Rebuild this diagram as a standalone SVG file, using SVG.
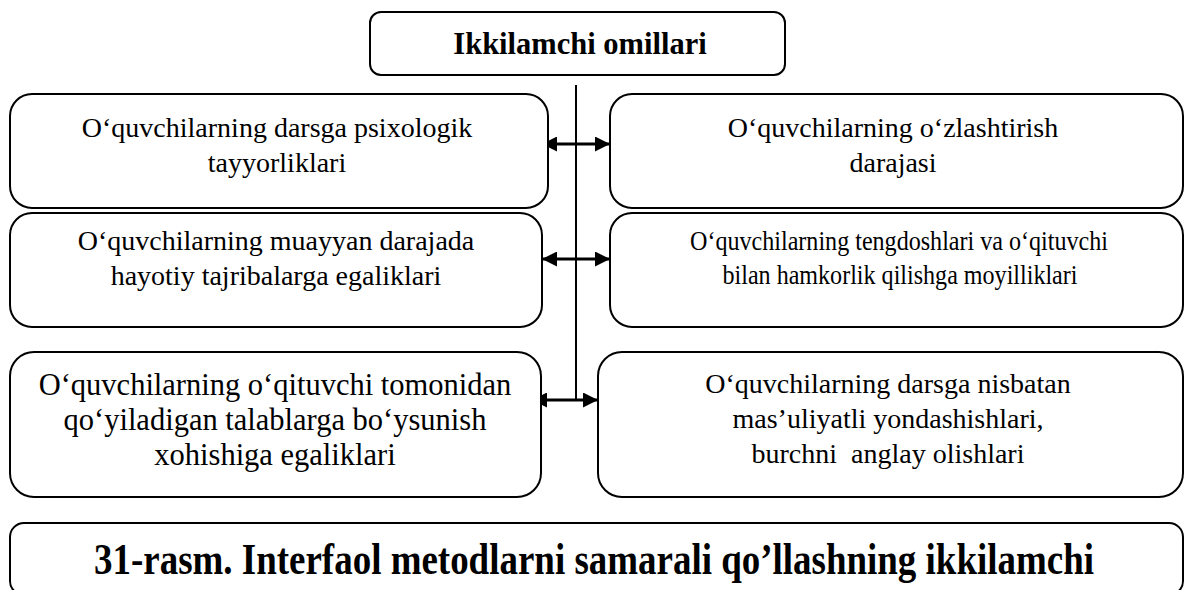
<svg xmlns="http://www.w3.org/2000/svg" width="1186" height="590" viewBox="0 0 1186 590">
<defs>
<style>
.box{fill:#fff;stroke:#000;stroke-width:2}
.t{font-family:'Liberation Serif','Times New Roman',Times,serif;font-size:28px;fill:#000;text-anchor:middle}
.h{font-weight:bold;font-size:30.5px}
.l{font-size:30.5px}
.c{font-weight:bold;font-size:44px}
.ln{stroke:#000;stroke-width:2;fill:none}
.ar{stroke:#000;stroke-width:3;fill:none;marker-start:url(#ah);marker-end:url(#ah)}
</style>
<marker id="ah" viewBox="0 0 10 10" refX="10" refY="5" markerWidth="5" markerHeight="5" orient="auto-start-reverse" markerUnits="strokeWidth">
<path d="M0,0 L10,5 L0,10 Z" fill="#000"/>
</marker>
</defs>
<rect width="1186" height="590" fill="#fff"/>
<g id="connectors">
<line class="ln" x1="576" y1="85" x2="576" y2="401"/>
<line class="ar" x1="542" y1="144" x2="610" y2="144"/>
<line class="ar" x1="542" y1="259" x2="610" y2="259"/>
<line class="ar" x1="532" y1="400" x2="598" y2="400"/>
</g>
<g id="top">
<rect class="box" x="370" y="12" width="415" height="63" rx="11"/>
<text class="t h" x="580" y="54">Ikkilamchi omillari</text>
</g>
<g id="n1">
<rect class="box" x="10" y="94" width="538" height="114" rx="22"/>
<text class="t" x="277" y="137">O‘quvchilarning darsga psixologik</text>
<text class="t" x="277" y="172">tayyorliklari</text>
</g>
<g id="n2">
<rect class="box" x="610" y="94" width="573" height="114" rx="22"/>
<text class="t" x="893" y="137">O‘quvchilarning o‘zlashtirish</text>
<text class="t" x="893" y="172">darajasi</text>
</g>
<g id="n3">
<rect class="box" x="10" y="213" width="532" height="114" rx="22"/>
<text class="t" x="276" y="250">O‘quvchilarning muayyan darajada</text>
<text class="t" x="276" y="285">hayotiy tajribalarga egaliklari</text>
</g>
<g id="n4">
<rect class="box" x="610" y="213" width="573" height="114" rx="22"/>
<text class="t" x="899" y="250" textLength="418" lengthAdjust="spacingAndGlyphs">O‘quvchilarning tengdoshlari va o‘qituvchi</text>
<text class="t" x="900" y="284" textLength="355" lengthAdjust="spacingAndGlyphs">bilan hamkorlik qilishga moyilliklari</text>
</g>
<g id="n5">
<rect class="box" x="10" y="352" width="531" height="145" rx="24"/>
<text class="t l" x="275" y="395">O‘quvchilarning o‘qituvchi tomonidan</text>
<text class="t l" x="275" y="430">qo‘yiladigan talablarga bo‘ysunish</text>
<text class="t l" x="275" y="465">xohishiga egaliklari</text>
</g>
<g id="n6">
<rect class="box" x="598" y="352" width="585" height="145" rx="24"/>
<text class="t" x="888" y="393">O‘quvchilarning darsga nisbatan</text>
<text class="t" x="888" y="428">mas’uliyatli yondashishlari,</text>
<text class="t" x="888" y="463" xml:space="preserve" style="white-space:pre">burchni  anglay olishlari</text>
</g>
<g id="caption">
<rect class="box" x="10" y="523" width="1173" height="72" rx="14"/>
<text class="t c" x="594" y="574" textLength="1000" lengthAdjust="spacingAndGlyphs">31-rasm. Interfaol metodlarni samarali qo’llashning ikkilamchi</text>
</g>
</svg>
